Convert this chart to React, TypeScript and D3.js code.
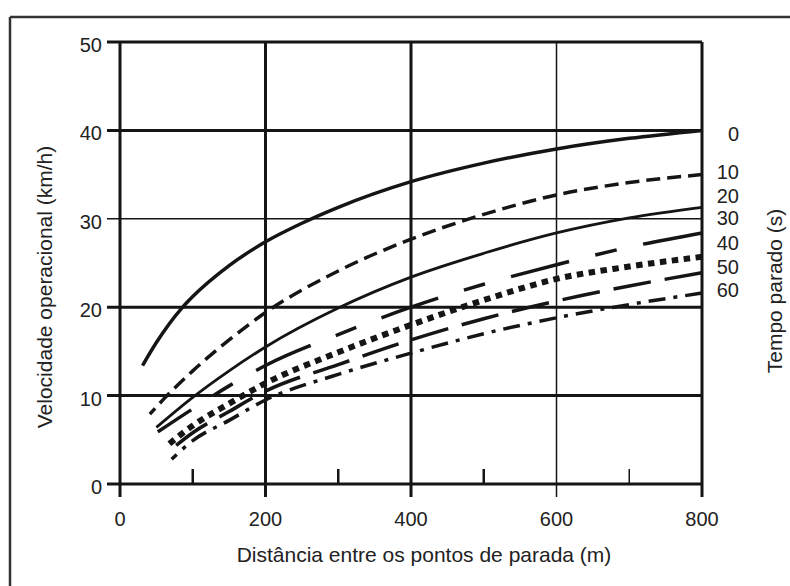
import React from 'react';
import * as d3 from 'd3';

// stop times (s), one curve each
const stopTimes = ['0', '10', '20', '30', '40', '50', '60'];

// [distance between stops (m), operational speed (km/h)]
const curveT0 = [[31, 13.4], [50, 16.0], [85, 19.9], [100, 21.2], [150, 24.7], [200, 27.4], [250, 29.5], [300, 31.3], [400, 34.2], [500, 36.3], [600, 37.9], [700, 39.1], [800, 40]];
const curveT10 = [[41, 7.9], [60, 9.6], [100, 12.8], [150, 16.3], [200, 19.4], [300, 24.1], [400, 27.7], [500, 30.5], [600, 32.7], [700, 34.1], [800, 35]];
const curveT20 = [[50, 6.4], [100, 9.8], [150, 12.8], [200, 15.5], [300, 19.9], [400, 23.4], [500, 26.1], [600, 28.4], [700, 30.1], [800, 31.3]];
const curveT30 = [[52, 5.9], [100, 8.5], [150, 11.1], [200, 13.4], [300, 16.9], [400, 20], [500, 22.6], [600, 24.8], [700, 26.8], [800, 28.4]];
const curveT40 = [[64, 4.3], [100, 6.6], [150, 9.1], [200, 11.4], [300, 14.9], [400, 18], [500, 20.8], [600, 23.2], [700, 24.6], [800, 25.7]];
const curveT50 = [[66, 3.6], [100, 5.8], [150, 8.2], [200, 10.5], [300, 13.5], [400, 16.3], [500, 18.7], [600, 20.7], [700, 22.4], [800, 23.9]];
const curveT60 = [[71, 2.8], [100, 4.9], [150, 7.2], [200, 9.5], [300, 12.4], [400, 14.8], [500, 17], [600, 18.8], [700, 20.3], [800, 21.6]];

const xTicks = [0, 200, 400, 600, 800];
const xMinorTicks = [100, 300, 500, 700];
const yTicks = [0, 10, 20, 30, 40, 50];

// where the stop-time labels sit on the right (km/h units)
const labelSpeeds = [39.6, 35.3, 32.6, 30.1, 27.3, 24.6, 22];

const curves = [curveT0, curveT10, curveT20, curveT30, curveT40, curveT50, curveT60];
const styles = [
  { w: 3.5, dash: null },
  { w: 3.5, dash: '14,7' },
  { w: 2.8, dash: null },
  { w: 3.5, dash: '60,27,22,27' },
  { w: 6, dash: '6.5,5.5' },
  { w: 3.5, dash: '38,14' },
  { w: 3.5, dash: '17,8,4,8' },
];

const App = () => {
  const width = 790;
  const height = 586;
  const x = d3.scaleLinear().domain([0, 800]).range([120, 702]);
  const y = d3.scaleLinear().domain([0, 50]).range([484, 42]);

  const line = d3.line<number[]>()
    .x((d) => x(d[0]))
    .y((d) => y(d[1]))
    .curve(d3.curveMonotoneX);

  const ink = '#151515';
  const font = 'Liberation Sans, Arial, sans-serif';

  return (
    <svg width={width} height={height} style={{ position: 'absolute', left: 0, top: 0, background: '#fff' }}>
      {/* outer frame */}
      <line x1={10} x2={width} y1={17} y2={17} stroke="#333" strokeWidth={2.5} />
      <line x1={10} x2={10} y1={17} y2={height} stroke="#333" strokeWidth={2.5} />

      {/* horizontal grid + y ticks */}
      {yTicks.map((t) => (
        <line key={'h' + t} x1={107} x2={x(800)} y1={y(t)} y2={y(t)}
          stroke={ink} strokeWidth={t === 30 ? 1.5 : 3} />
      ))}
      {/* vertical grid + x ticks */}
      {xTicks.map((t) => (
        <line key={'v' + t} x1={x(t)} x2={x(t)} y1={y(50)} y2={497}
          stroke={ink} strokeWidth={t === 600 ? 1.5 : 3} />
      ))}
      {xMinorTicks.map((t) => (
        <line key={'m' + t} x1={x(t)} x2={x(t)} y1={469} y2={y(0)}
          stroke={ink} strokeWidth={t === 700 ? 1.5 : 2.5} />
      ))}

      {/* curves, drawn from the right end so dashes line up there */}
      {curves.map((c, i) => (
        <path key={'c' + i} d={line(c.slice().reverse()) || ''} fill="none" stroke={ink}
          strokeWidth={styles[i].w} strokeDasharray={styles[i].dash || undefined} />
      ))}

      {/* tick labels */}
      <g fontFamily={font} fontSize={20} fill="#222">
        {yTicks.map((t) => (
          <text key={'yl' + t} x={102} y={y(t) + 3} textAnchor="end" dominantBaseline="central">{t}</text>
        ))}
        {xTicks.map((t) => (
          <text key={'xl' + t} x={x(t)} y={526} textAnchor="middle">{t}</text>
        ))}
        {stopTimes.map((s, i) => (
          <text key={'s' + s} x={739} y={y(labelSpeeds[i])} textAnchor="end" dominantBaseline="central">{s}</text>
        ))}
      </g>

      {/* axis titles */}
      <g fontFamily={font} fontSize={21} fill="#222">
        <text x={424} y={562} textAnchor="middle">Distância entre os pontos de parada (m)</text>
        <text transform="translate(44,287) rotate(-90)" textAnchor="middle" dominantBaseline="central">
          Velocidade operacional (km/h)
        </text>
        <text transform="translate(774,291) rotate(-90)" textAnchor="middle" dominantBaseline="central">
          Tempo parado (s)
        </text>
      </g>
    </svg>
  );
};

export default App;
